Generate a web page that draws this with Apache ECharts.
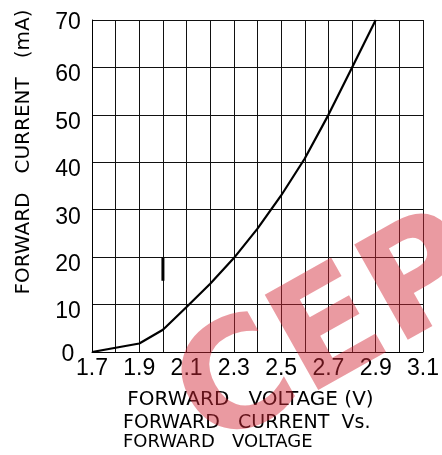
<!DOCTYPE html>
<html>
<head>
<meta charset="utf-8">
<script src="https://cdn.jsdelivr.net/npm/echarts@6/dist/echarts.min.js"></script>
<style>
  html, body { margin: 0; padding: 0; background: #fff; }
  #chart { width: 442px; height: 455px; }
</style>
</head>
<body>
<div id="chart"></div>
<script>
// Forward voltage (V) and forward current (mA) of the LED curve
const voltage = [1.7, 1.8, 1.9, 2.0, 2.1, 2.2, 2.3, 2.4, 2.5, 2.6, 2.7, 2.8, 2.9];
const current = [0, 0.9, 1.8, 4.7, 9.5, 14.4, 19.8, 26.0, 33.0, 40.8, 50, 60, 70];

// short marker stroke drawn on the 2.0 V grid line
const markerVoltage = [2.0, 2.0];
const markerCurrent = [20, 15];

// axis ranges and labelled ticks
const xRange = [1.7, 3.1];
const yRange = [0, 70];
const xTickLabels = ['1.7', '1.9', '2.1', '2.3', '2.5', '2.7', '2.9', '3.1'];
const yEndLabels = [0, 70];
const yInnerLabels = [10, 20, 30, 40, 50, 60];

const xTitle = 'FORWARD   VOLTAGE (V)';
const yTitle = 'FORWARD   CURRENT   (mA)';
const chartTitle = '{a|FORWARD   CURRENT  Vs.}\n{b|FORWARD   VOLTAGE}';

const curve = voltage.map((v, i) => [v, current[i]]);
const marker = markerVoltage.map((v, i) => [v, markerCurrent[i]]);

const numFont = '"Liberation Sans", Arial, sans-serif';
const textFont = '"DejaVu Sans", sans-serif';

// plot box; the tick numbers use copies of it dropped a few pixels,
// so the numbers hang just under their grid lines
const plot = { left: 92, right: 19, top: 20, bottom: 103 };
function dropped(px) {
  return { left: plot.left, right: plot.right, top: plot.top + px, bottom: plot.bottom - px };
}

const chart = echarts.init(document.getElementById('chart'), null, { renderer: 'canvas' });

const numLabel = { margin: 24, align: 'center', fontFamily: numFont, fontSize: 23, color: '#000' };

function labelOnlyY(gridIndex, shown) {
  return {
    type: 'value', gridIndex,
    min: yRange[0], max: yRange[1], interval: 10,
    axisLine: { show: false }, axisTick: { show: false }, splitLine: { show: false },
    axisLabel: Object.assign({}, numLabel, {
      showMinLabel: true, showMaxLabel: true,
      formatter: v => (shown.indexOf(v) >= 0 ? String(v) : '')
    })
  };
}
function hiddenX(gridIndex) {
  return { type: 'value', gridIndex, min: xRange[0], max: xRange[1], show: false };
}

chart.setOption({
  animation: false,
  backgroundColor: '#fff',
  grid: [
    Object.assign({ containLabel: false }, plot),
    Object.assign({ containLabel: false }, dropped(7.5)),
    Object.assign({ containLabel: false }, dropped(2.5))
  ],
  title: {
    text: chartTitle,
    left: 123,
    top: 414,
    padding: 0,
    textStyle: {
      fontWeight: 'normal',
      rich: {
        a: { fontFamily: textFont, fontSize: 19, fontWeight: 'normal', color: '#000', lineHeight: 19 },
        b: { fontFamily: textFont, fontSize: 18, fontWeight: 'normal', color: '#000', lineHeight: 18 }
      }
    }
  },
  xAxis: [
    {
      type: 'value',
      gridIndex: 0,
      min: xRange[0], max: xRange[1], interval: 0.1,
      name: xTitle,
      nameLocation: 'middle',
      nameGap: 38,
      nameTextStyle: {
        fontFamily: textFont, fontSize: 20, color: '#000',
        padding: [0, 14, 0, 0]
      },
      axisLine: { show: true, lineStyle: { color: '#000', width: 1 } },
      axisTick: { show: false },
      axisLabel: {
        margin: 5,
        fontFamily: numFont, fontSize: 23, color: '#000',
        showMinLabel: true, showMaxLabel: true,
        formatter: v => {
          const s = v.toFixed(1);
          return xTickLabels.indexOf(s) >= 0 ? s : '';
        }
      },
      splitLine: { show: true, lineStyle: { color: '#111', width: 1 } }
    },
    hiddenX(1),
    hiddenX(2)
  ],
  yAxis: [
    {
      type: 'value',
      gridIndex: 0,
      min: yRange[0], max: yRange[1], interval: 10,
      name: yTitle,
      nameLocation: 'middle',
      nameGap: 58,
      nameRotate: 90,
      nameTextStyle: {
        fontFamily: textFont, fontSize: 20, color: '#000',
        padding: [0, 0, 0, 68]
      },
      axisLine: { show: true, lineStyle: { color: '#000', width: 1 } },
      axisTick: { show: false },
      axisLabel: { show: false },
      splitLine: { show: true, lineStyle: { color: '#111', width: 1 } }
    },
    labelOnlyY(1, yInnerLabels),
    labelOnlyY(2, yEndLabels)
  ],
  series: [
    {
      type: 'line',
      xAxisIndex: 0, yAxisIndex: 0,
      data: curve,
      showSymbol: false,
      smooth: false,
      lineStyle: { color: '#000', width: 2.2 },
      z: 5
    },
    {
      type: 'line',
      xAxisIndex: 0, yAxisIndex: 0,
      data: marker,
      showSymbol: false,
      lineStyle: { color: '#000', width: 3 },
      z: 5
    }
  ],
  graphic: [
    {
      type: 'text',
      x: 228,
      y: 482,
      rotation: 29.3 * Math.PI / 180,
      z: 100,
      silent: true,
      style: {
        text: 'CEP',
        font: 'bold 150px "DejaVu Sans"',
        fill: 'rgba(210, 40, 55, 0.47)',
        verticalAlign: 'bottom',
        align: 'left'
      }
    }
  ]
});
</script>
</body>
</html>
